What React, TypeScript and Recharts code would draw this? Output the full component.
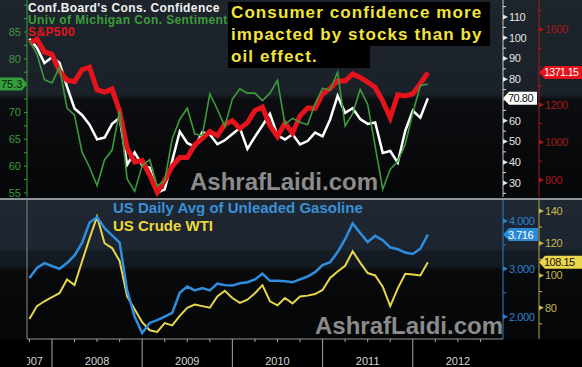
import { ComposedChart, Line, XAxis, YAxis, ReferenceLine } from "recharts";

const FONT = "'Liberation Sans', Arial, sans-serif";

// monthly points, month-end, Sep 2007 .. Feb 2012
const monthLabels = [
  "Sep 07", "Oct 07", "Nov 07", "Dec 07",
  "Jan 08", "Feb 08", "Mar 08", "Apr 08", "May 08", "Jun 08", "Jul 08", "Aug 08", "Sep 08", "Oct 08", "Nov 08", "Dec 08",
  "Jan 09", "Feb 09", "Mar 09", "Apr 09", "May 09", "Jun 09", "Jul 09", "Aug 09", "Sep 09", "Oct 09", "Nov 09", "Dec 09",
  "Jan 10", "Feb 10", "Mar 10", "Apr 10", "May 10", "Jun 10", "Jul 10", "Aug 10", "Sep 10", "Oct 10", "Nov 10", "Dec 10",
  "Jan 11", "Feb 11", "Mar 11", "Apr 11", "May 11", "Jun 11", "Jul 11", "Aug 11", "Sep 11", "Oct 11", "Nov 11", "Dec 11",
  "Jan 12", "Feb 12",
];

const confBoard = [
  99.5, 95.2, 87.8, 90.6,
  87.9, 76.4, 65.9, 62.8, 58.1, 51.0, 51.9, 58.5, 61.4, 38.8, 44.7, 38.6,
  37.4, 25.3, 26.9, 40.8, 54.8, 49.3, 47.4, 54.5, 53.4, 48.7, 50.6, 53.6,
  56.5, 46.4, 52.3, 57.7, 63.3, 52.9, 51.0, 53.5, 48.6, 50.2, 54.3, 52.5,
  60.6, 72.0, 63.8, 66.0, 60.8, 58.5, 59.2, 44.5, 45.4, 39.8, 55.2, 64.8,
  61.5, 70.8,
];

const umichSentiment = [
  83.4, 80.9, 76.1, 75.5,
  78.4, 70.8, 69.5, 62.6, 59.8, 56.4, 61.2, 63.0, 70.3, 57.6, 55.3, 60.1,
  61.2, 56.3, 57.3, 65.1, 68.7, 70.8, 66.0, 65.7, 73.5, 70.6, 67.4, 72.5,
  74.4, 73.6, 73.6, 72.2, 73.6, 76.0, 67.8, 68.9, 68.2, 67.7, 71.6, 74.5,
  74.2, 77.5, 67.5, 69.8, 74.3, 71.5, 63.7, 55.7, 59.4, 60.9, 64.1, 69.9,
  75.0, 75.3,
];

const sp500 = [
  1527, 1549, 1481, 1468,
  1379, 1331, 1323, 1386, 1400, 1280, 1267, 1283, 1166, 969, 896, 903,
  826, 735, 798, 873, 919, 919, 987, 1021, 1057, 1036, 1096, 1115,
  1074, 1104, 1169, 1187, 1089, 1031, 1102, 1049, 1141, 1183, 1181, 1258,
  1286, 1327, 1326, 1364, 1345, 1321, 1292, 1219, 1131, 1253, 1247, 1258,
  1312, 1371.15,
];

const gasoline = [
  2.81, 3.02, 3.12, 3.06,
  3.0, 3.12, 3.28, 3.54, 3.97, 4.08, 3.85, 3.7, 3.55, 2.55, 2.0, 1.66,
  1.87, 1.93, 2.0, 2.08, 2.5, 2.63, 2.55, 2.6, 2.55, 2.69, 2.66, 2.65,
  2.7, 2.72, 2.78, 2.9, 2.75, 2.75, 2.74, 2.72, 2.78, 2.84, 2.93, 3.08,
  3.14, 3.35, 3.62, 3.95, 3.75, 3.56, 3.69, 3.6, 3.45, 3.41, 3.34, 3.31,
  3.42, 3.716,
];

const crudeWti = [
  73, 81, 84, 86.5,
  89, 97.5, 94, 108.7, 123, 136.5, 120, 117, 109, 87, 79, 71,
  66, 65, 70.5, 69, 75, 80, 82, 81, 80, 87, 90.5, 86,
  83, 85, 89, 94, 84, 81.5, 86, 82.7, 87, 87.5, 88.5, 91,
  98.5, 102.5, 106, 115, 108, 101.5, 100, 93, 81, 92, 101, 100.6,
  100, 108.15,
];

// axis ticks (minor) and labelled ticks; labels hidden under the value flags are left out
const umTicks = [55, 57.5, 60, 62.5, 65, 67.5, 70, 72.5, 75, 77.5, 80, 82.5, 85, 87.5, 90];
const umLabels = [55, 60, 65, 70, 80, 85];
const cbTicks = [25, 30, 35, 40, 45, 50, 55, 60, 65, 70, 75, 80, 85, 90, 95, 100, 105, 110, 115];
const cbLabels = [30, 40, 50, 60, 80, 90, 100, 110];
const spxTicks = [800, 900, 1000, 1100, 1200, 1300, 1400, 1500, 1600, 1700];
const spxLabels = [800, 1000, 1200, 1600];
const gasTicks = [2, 2.5, 3, 3.5, 4];
const gasLabels = [2, 3, 4];
const wtiTicks = [70, 80, 90, 100, 110, 120, 130, 140];
const wtiLabels = [80, 100, 120, 140];

// x axis: month index, 0 = Jan 2008
const quarterTicks = [-4, -1, 2, 5, 8, 11, 14, 17, 20, 23, 26, 29, 32, 35, 38, 41, 44, 47, 50, 53, 56];
const yearStarts = [-1, 11, 23, 35, 47];
const yearLabelTicks = [5, 17, 29, 41, 53];
const yearLabels = ["2008", "2009", "2010", "2011", "2012"];
const firstYearLabel = "2007";

const X_DOMAIN = [-4.32, 59];

const topRows = monthLabels.map((label, i) => ({
  label,
  m: i - 4,
  cb: confBoard[i],
  um: umichSentiment[i],
  spx: sp500[i],
}));

const bottomRows = monthLabels.map((label, i) => ({
  label,
  m: i - 4,
  gas: gasoline[i],
  wti: crudeWti[i],
}));

const last = (a: number[]) => a[a.length - 1];

function rightTick(color: string, labels: number[], fmt: (v: number) => string) {
  return (props: any) => {
    const { x, y, payload } = props;
    const v = payload.value;
    const major = labels.includes(v);
    return (
      <g>
        {major ? (
          <polygon points={`${x},${y - 2.5} ${x + 5},${y} ${x},${y + 2.5}`} fill={color} />
        ) : (
          <line x1={x} x2={x + 3} y1={y} y2={y} stroke={color} strokeWidth={1} />
        )}
        {major && (
          <text x={x + 6} y={y} dy="0.36em" fill={color} fontSize={11} fontFamily={FONT} letterSpacing={-0.4}>
            {fmt(v)}
          </text>
        )}
      </g>
    );
  };
}

function LeftTick(props: any) {
  const { x, y, payload } = props;
  const v = payload.value;
  const major = umLabels.includes(v);
  return (
    <g>
      <line x1={x - 3} x2={x} y1={y} y2={y} stroke="#3c9c3c" strokeWidth={1} />
      {major && (
        <text x={x - 6} y={y} dy="0.36em" textAnchor="end" fill="#3c9c3c" fontSize={11} fontFamily={FONT}>
          {v}
        </text>
      )}
    </g>
  );
}

function YearTick(props: any) {
  const { x, y, payload } = props;
  const v = payload.value;
  const li = yearLabelTicks.indexOf(v);
  return (
    <g>
      {yearStarts.includes(v) ? (
        <line x1={x} x2={x} y1={y} y2={y + 28} stroke="#a8a8a8" strokeWidth={1} />
      ) : (
        <line x1={x} x2={x} y1={y} y2={y + 3} stroke="#a8a8a8" strokeWidth={1} />
      )}
      {li >= 0 && (
        <text x={x} y={y + 26} textAnchor="middle" fill="#d6d6d6" fontSize={11} fontFamily={FONT}>
          {yearLabels[li]}
        </text>
      )}
      {v === quarterTicks[0] && (
        <g>
          <defs>
            <clipPath id="firstYearClip">
              <rect x={x - 2.5} y={y} width={40} height={30} />
            </clipPath>
          </defs>
          <text x={x + 13.5} y={y + 26} textAnchor="end" fill="#d6d6d6" fontSize={11} fontFamily={FONT} clipPath="url(#firstYearClip)">
            {firstYearLabel}
          </text>
        </g>
      )}
    </g>
  );
}

function RightFlag(props: any) {
  const { viewBox, text, fill, textColor, shift = 0, boxWidth, fontSize = 11.5 } = props;
  if (!viewBox) return null;
  const tip = viewBox.x + viewBox.width + shift;
  const y = viewBox.y;
  const h = 6.5;
  const pts = `${tip},${y} ${tip + 6},${y - h} ${tip + 6 + boxWidth},${y - h} ${tip + 6 + boxWidth},${y + h} ${tip + 6},${y + h}`;
  return (
    <g>
      <polygon points={pts} fill={fill} />
      <text x={tip + 5} y={y} dy="0.36em" fill={textColor} fontSize={fontSize} fontFamily={FONT} letterSpacing={-0.5}>
        {text}
      </text>
    </g>
  );
}

function LeftFlag(props: any) {
  const { viewBox, text, fill, textColor } = props;
  if (!viewBox) return null;
  const tip = viewBox.x;
  const y = viewBox.y;
  const h = 6.5;
  const pts = `${tip},${y} ${tip - 5},${y - h} 0,${y - h} 0,${y + h} ${tip - 5},${y + h}`;
  return (
    <g>
      <polygon points={pts} fill={fill} />
      <text x={1} y={y} dy="0.36em" fill={textColor} fontSize={11} fontFamily={FONT}>
        {text}
      </text>
    </g>
  );
}

const abs = (left: number, top: number, extra: any = {}) => ({
  position: "absolute" as const,
  left,
  top,
  fontFamily: FONT,
  whiteSpace: "nowrap" as const,
  pointerEvents: "none" as const,
  ...extra,
});

export default function App() {
  return (
    <div style={{ position: "absolute", left: 0, top: 0, width: 582, height: 367, background: "#000", overflow: "hidden" }}>
      <div
        style={{
          position: "absolute",
          left: 0,
          top: 0,
          width: 582,
          height: 199,
          background: "linear-gradient(to bottom, #1e242c 0px, #1b2129 94px, #0b0d10 100px, #050607 197px)",
        }}
      >
        <ComposedChart width={582} height={199} data={topRows} margin={{ top: 0, right: 0, bottom: 2, left: 0 }}>
          <XAxis type="number" dataKey="m" domain={X_DOMAIN} allowDataOverflow hide />
          <YAxis
            yAxisId="um"
            orientation="left"
            width={27}
            domain={[54.25, 90.96]}
            allowDataOverflow
            ticks={umTicks}
            interval={0}
            tickSize={0}
            tickMargin={0}
            tickLine={false}
            axisLine={{ stroke: "#3c9c3c" }}
            tick={LeftTick}
          />
          <YAxis
            yAxisId="cb"
            orientation="right"
            width={36}
            domain={[23.25, 118.19]}
            allowDataOverflow
            ticks={cbTicks}
            interval={0}
            tickSize={0}
            tickMargin={0}
            tickLine={false}
            axisLine={{ stroke: "#c8c8c8" }}
            tick={rightTick("#e6e6e6", cbLabels, (v) => String(v))}
          />
          <YAxis
            yAxisId="spx"
            orientation="right"
            width={43}
            domain={[709.6, 1756.8]}
            allowDataOverflow
            ticks={spxTicks}
            interval={0}
            tickSize={0}
            tickMargin={0}
            tickLine={false}
            axisLine={{ stroke: "#a51a1a" }}
            tick={rightTick("#a51a1a", spxLabels, (v) => String(v))}
          />
          <Line yAxisId="cb" dataKey="cb" stroke="#ffffff" strokeWidth={2.5} dot={false} isAnimationActive={false} />
          <Line yAxisId="spx" dataKey="spx" stroke="#e5141c" strokeWidth={5} dot={false} isAnimationActive={false} />
          <Line yAxisId="um" dataKey="um" stroke="#3c9c3c" strokeWidth={1.6} dot={false} isAnimationActive={false} />
          <ReferenceLine
            yAxisId="um"
            y={last(umichSentiment)}
            stroke="none"
            label={<LeftFlag text={last(umichSentiment).toFixed(1)} fill="#33a03c" textColor="#0c1a0c" />}
          />
          <ReferenceLine
            yAxisId="cb"
            y={last(confBoard)}
            stroke="none"
            label={<RightFlag text={last(confBoard).toFixed(2)} fill="#ffffff" textColor="#111" boxWidth={28} fontSize={11} />}
          />
          <ReferenceLine
            yAxisId="spx"
            y={last(sp500)}
            stroke="none"
            label={<RightFlag text={last(sp500).toFixed(2)} fill="#e3121b" textColor="#ffffff" shift={36} boxWidth={40} fontSize={10.5} />}
          />
        </ComposedChart>
      </div>

      <div
        style={{
          position: "absolute",
          left: 0,
          top: 199,
          width: 582,
          height: 168,
          background:
            "linear-gradient(to bottom, #1f2731 0px, #1c2530 50px, #151c24 52px, #121820 68px, #08090b 71px, #050607 140px, #000 141px)",
        }}
      >
        <ComposedChart width={582} height={168} data={bottomRows} margin={{ top: 1, right: 0, bottom: 0, left: 0 }}>
          <XAxis
            type="number"
            dataKey="m"
            domain={X_DOMAIN}
            allowDataOverflow
            ticks={quarterTicks}
            interval={0}
            height={28}
            tickSize={0}
            tickMargin={0}
            tickLine={false}
            axisLine={{ stroke: "#9a9a9a" }}
            tick={YearTick}
          />
          <YAxis yAxisId="left" orientation="left" width={27} domain={[0, 1]} tick={false} tickLine={false} axisLine={{ stroke: "#8a8a8a" }} />
          <YAxis
            yAxisId="gas"
            orientation="right"
            width={36}
            domain={[1.534, 4.439]}
            allowDataOverflow
            ticks={gasTicks}
            interval={0}
            tickSize={0}
            tickMargin={0}
            tickLine={false}
            axisLine={{ stroke: "#2d7fc6" }}
            tick={rightTick("#2f82cc", gasLabels, (v) => v.toFixed(3))}
          />
          <YAxis
            yAxisId="wti"
            orientation="right"
            width={43}
            domain={[60.6, 146.8]}
            allowDataOverflow
            ticks={wtiTicks}
            interval={0}
            tickSize={0}
            tickMargin={0}
            tickLine={false}
            axisLine={{ stroke: "#b8a648" }}
            tick={rightTick("#c9b64c", wtiLabels, (v) => String(v))}
          />
          <Line yAxisId="wti" dataKey="wti" stroke="#e8d64a" strokeWidth={2} dot={false} isAnimationActive={false} />
          <Line yAxisId="gas" dataKey="gas" stroke="#2e8fe0" strokeWidth={2.5} dot={false} isAnimationActive={false} />
          <ReferenceLine
            yAxisId="gas"
            y={last(gasoline)}
            stroke="none"
            label={<RightFlag text={last(gasoline).toFixed(3)} fill="#2a8ad6" textColor="#ffffff" boxWidth={29} fontSize={11} />}
          />
          <ReferenceLine
            yAxisId="wti"
            y={last(crudeWti)}
            stroke="none"
            label={<RightFlag text={last(crudeWti).toFixed(2)} fill="#ecd64a" textColor="#111" shift={36} boxWidth={40} fontSize={11} />}
          />
        </ComposedChart>
      </div>

      <div style={{ position: "absolute", left: 0, top: 197.5, width: 582, height: 2.5, background: "#90959a" }} />

      <div style={abs(28, 2, { fontSize: 12, fontWeight: "bold", lineHeight: "12px", letterSpacing: 0.4 })}>
        <div style={{ color: "#f2f2f2" }}>Conf.Board's Cons. Confidence</div>
        <div style={{ color: "#3c9c3c" }}>Univ of Michigan Con. Sentiment</div>
        <div style={{ color: "#e3151c" }}>S&amp;P500</div>
      </div>

      {[
        { text: "Consumer confidence more", top: 1.5, width: 262 },
        { text: "impacted by stocks than by", top: 23.5, width: 262 },
        { text: "oil effect.", top: 45.5, width: 142 },
      ].map((l) => (
        <div
          key={l.text}
          style={abs(228, l.top, {
            width: l.width,
            height: 22,
            background: "#000",
            color: "#f2e43c",
            fontSize: 17,
            fontWeight: "bold",
            lineHeight: "22px",
            letterSpacing: 1.1,
            paddingLeft: 3,
            boxSizing: "border-box",
          })}
        >
          {l.text}
        </div>
      ))}

      <div style={abs(113, 199, { fontSize: 15, fontWeight: "bold", lineHeight: "18px" })}>
        <div style={{ color: "#3a8fd6" }}>US Daily Avg of Unleaded Gasoline</div>
        <div style={{ color: "#ecd83a" }}>US Crude WTI</div>
      </div>

      <div style={abs(190, 170, { fontSize: 24, fontWeight: "bold", lineHeight: "24px", color: "#8b8b8b" })}>AshrafLaidi.com</div>
      <div style={abs(315, 314, { fontSize: 24, fontWeight: "bold", lineHeight: "24px", color: "#8b8b8b" })}>AshrafLaidi.com</div>
    </div>
  );
}
